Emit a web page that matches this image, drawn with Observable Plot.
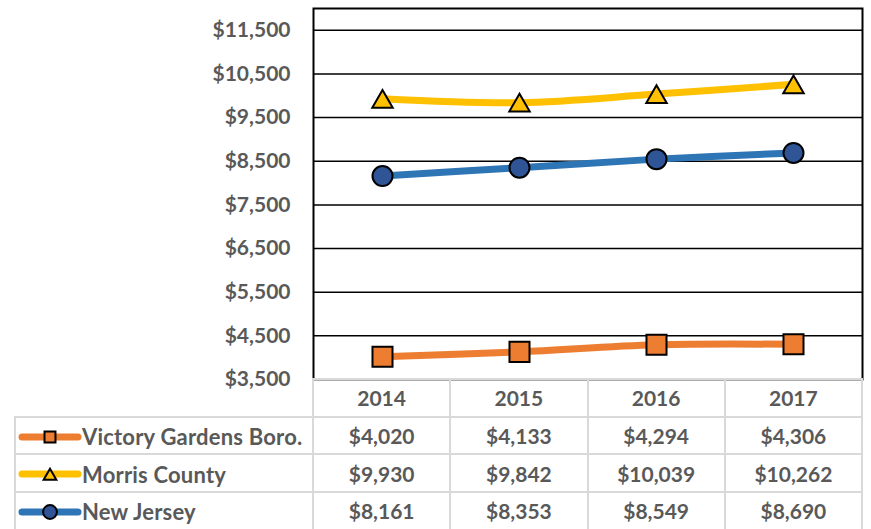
<!DOCTYPE html>
<html><head><meta charset="utf-8">
<script src="https://cdn.jsdelivr.net/npm/d3@7"></script>
<script src="https://cdn.jsdelivr.net/npm/@observablehq/plot@0.6"></script>
<style>
body{margin:0;background:#fff;font-family:Lato,"Open Sans",sans-serif;}
#wrap{position:relative;width:871px;height:529px;overflow:hidden;background:#fff;}
#chart{position:absolute;left:0;top:0;}
#tbl{position:absolute;left:14px;top:378px;border-collapse:collapse;table-layout:fixed;font-weight:700;font-size:21px;color:#595959;}
#tbl td{border:2px solid #d9d9d9;padding:0;text-align:center;vertical-align:middle;white-space:nowrap;}
#tbl tr{height:37.7px;}
#tbl td.lab{text-align:left;padding-left:2px;}
#tbl td.lab svg{vertical-align:middle;margin-right:0px;}
#tbl td.lab span{vertical-align:middle;font-size:22px;letter-spacing:0.2px;}
</style></head><body>
<div id="wrap"><div id="chart"></div><table id="tbl"></table></div>
<script>
// ---- data ----
const years = ["2014", "2015", "2016", "2017"];
const seriesNames = ["Victory Gardens Boro.", "Morris County", "New Jersey"];
const victoryGardens = [4020, 4133, 4294, 4306];
const morrisCounty = [9930, 9842, 10039, 10262];
const newJersey = [8161, 8353, 8549, 8690];
const yTicks = [3500, 4500, 5500, 6500, 7500, 8500, 9500, 10500, 11500];

// ---- styles ----
const lineColors = ["#ED7D31", "#FFC000", "#2E75B6"];
const markerFills = ["#ED7D31", "#FFC000", "#2F5597"];
const markerSymbols = ["square", "triangle", "circle"];
const markerR = [11.3, 7.6, 10];
const markerDy = [0, 3, 0];

const seriesValues = [victoryGardens, morrisCounty, newJersey];
const data = seriesNames.flatMap((s, i) => years.map((y, j) => ({series: s, year: y, value: seriesValues[i][j]})));
const fmt = d => "$" + d3.format(",")(d);

const plot = Plot.plot({
  width: 871, height: 380,
  marginTop: 8, marginBottom: 1, marginLeft: 313, marginRight: 9,
  style: {fontFamily: "Lato, 'Open Sans', sans-serif", fontSize: "21px", fontWeight: 700, color: "#595959", background: "transparent", overflow: "visible"},
  x: {type: "point", domain: years, padding: 0.5, axis: null},
  y: {domain: [3500, 12000], ticks: yTicks, tickFormat: fmt, tickSize: 0, tickPadding: 23, label: null},
  color: {domain: seriesNames, range: lineColors},
  marks: [
    Plot.ruleY(yTicks.slice(1), {stroke: "#000", strokeWidth: 1.5}),
    Plot.frame({stroke: "#000", strokeWidth: 2}),
    Plot.ruleY([3500], {stroke: "#d9d9d9", strokeWidth: 2}),
    Plot.line(data, {x: "year", y: "value", z: "series", stroke: "series", strokeWidth: 7, curve: "catmull-rom"}),
    ...seriesNames.map((s, i) => Plot.dot(data.filter(d => d.series === s), {
      x: "year", y: "value", symbol: markerSymbols[i], r: markerR[i], dy: markerDy[i],
      fill: markerFills[i], stroke: "#000", strokeWidth: 2
    }))
  ]
});
document.getElementById("chart").appendChild(plot);

// ---- data table ----
const tbl = d3.select("#tbl");
const cg = tbl.append("colgroup");
cg.append("col").style("width", "298px");
years.forEach(() => cg.append("col").style("width", "137.25px"));
const head = tbl.append("tr");
head.append("td").style("border-top", "none").style("border-left", "none");
years.forEach(y => head.append("td").text(y));
seriesNames.forEach((s, i) => {
  const tr = tbl.append("tr");
  const lab = tr.append("td").attr("class", "lab");
  const sw = lab.append("svg").attr("width", 64).attr("height", 22);
  sw.append("line").attr("x1", 4).attr("x2", 60).attr("y1", 11).attr("y2", 11)
    .attr("stroke", lineColors[i]).attr("stroke-width", 7).attr("stroke-linecap", "round");
  sw.append("path").attr("transform", `translate(32,${i === 1 ? 13 : 11})`)
    .attr("d", d3.symbol(i === 0 ? d3.symbolSquare : i === 1 ? d3.symbolTriangle : d3.symbolCircle, i === 1 ? 70 : i === 0 ? 120 : 150)())
    .attr("fill", markerFills[i]).attr("stroke", "#000").attr("stroke-width", 2);
  lab.append("span").text(s);
  seriesValues[i].forEach(v => tr.append("td").text(fmt(v)));
});
</script>
</body></html>
